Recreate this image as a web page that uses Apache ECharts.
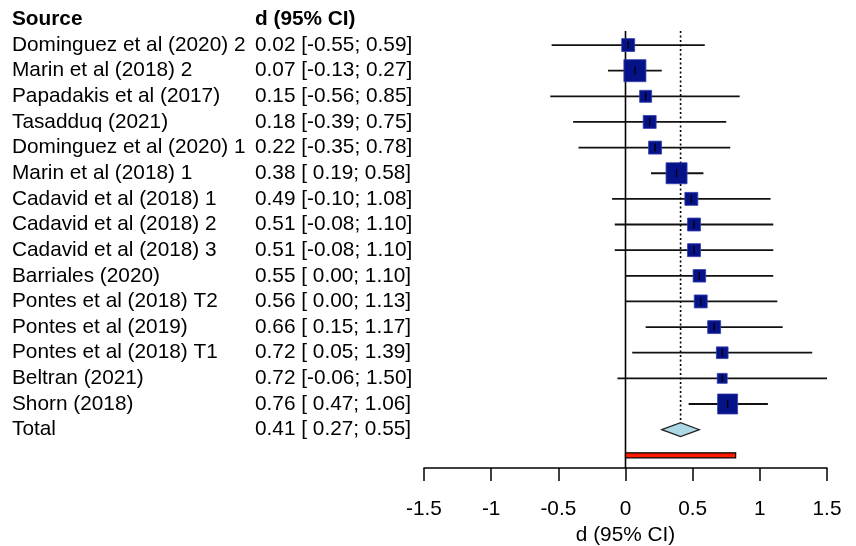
<!DOCTYPE html>
<html><head><meta charset="utf-8">
<script src="https://cdn.jsdelivr.net/npm/echarts@6/dist/echarts.min.js"></script>
<style>html,body{margin:0;padding:0;background:#fff}#c{width:856px;height:546px}</style>
</head><body><div id="c"></div>
<script>
// ---- data ----
const studies = ['Dominguez et al (2020) 2','Marin et al (2018) 2','Papadakis et al (2017)','Tasadduq (2021)','Dominguez et al (2020) 1','Marin et al (2018) 1','Cadavid et al (2018) 1','Cadavid et al (2018) 2','Cadavid et al (2018) 3','Barriales (2020)','Pontes et al (2018) T2','Pontes et al (2019)','Pontes et al (2018) T1','Beltran (2021)','Shorn (2018)'];
const estimates = [0.02,0.07,0.15,0.18,0.22,0.38,0.49,0.51,0.51,0.55,0.56,0.66,0.72,0.72,0.76];
const lower = [-0.55,-0.13,-0.56,-0.39,-0.35,0.19,-0.10,-0.08,-0.08,0.00,0.00,0.15,0.05,-0.06,0.47];
const upper = [0.59,0.27,0.85,0.75,0.78,0.58,1.08,1.10,1.10,1.10,1.13,1.17,1.39,1.50,1.06];
const weights = [4.9,14.2,4.2,4.9,4.9,12.9,4.9,4.9,4.9,4.6,4.9,4.9,4.0,2.9,11.7];
const ciText = ['0.02 [-0.55; 0.59]','0.07 [-0.13; 0.27]','0.15 [-0.56; 0.85]','0.18 [-0.39; 0.75]','0.22 [-0.35; 0.78]','0.38 [ 0.19; 0.58]','0.49 [-0.10; 1.08]','0.51 [-0.08; 1.10]','0.51 [-0.08; 1.10]','0.55 [ 0.00; 1.10]','0.56 [ 0.00; 1.13]','0.66 [ 0.15; 1.17]','0.72 [ 0.05; 1.39]','0.72 [-0.06; 1.50]','0.76 [ 0.47; 1.06]'];
const totalName = 'Total';
const totalEst = 0.41, totalLower = 0.27, totalUpper = 0.55;
const totalText = '0.41 [ 0.27; 0.55]';
const predBar = [0, 0.82];
const headers = ['Source', 'd (95% CI)'];
const xTitle = 'd (95% CI)';
const xMin = -1.5, xMax = 1.5, xStep = 0.5;

// ---- layout ----
const FONT = '"Liberation Sans", Arial, sans-serif';
const FS = 20.8;
const gridLeft = 424, gridRight = 29, gridTop = 19.4, gridBottom = 77.9;
const nameX = 12, ciX = 255;
const totalRow = studies.length + 1, barRow = studies.length + 2;

const studyData = estimates.map((e, i) => [e, lower[i], upper[i], i + 1, weights[i]]);

function rowLabel(col) {
  return function (v) {
    if (v === 0) return '{b|' + headers[col] + '}';
    if (v >= 1 && v <= studies.length && Number.isInteger(v)) return col === 0 ? studies[v - 1] : ciText[v - 1];
    if (v === totalRow) return col === 0 ? totalName : totalText;
    return '';
  };
}
function yAx(col, margin) {
  return {
    type: 'value', inverse: true, min: 0, max: barRow + 0.5, interval: 1, position: 'left',
    axisLine: {show: false, onZero: false}, axisTick: {show: false}, splitLine: {show: false},
    axisLabel: {show: true, formatter: rowLabel(col), align: 'left', margin: margin,
      color: '#000', fontFamily: FONT, fontSize: FS, showMinLabel: true, showMaxLabel: true,
      rich: {b: {fontWeight: 'bold', fontFamily: FONT, fontSize: FS, color: '#000'}}}
  };
}

const chart = echarts.init(document.getElementById('c'), null, {renderer: 'canvas'});
chart.setOption({
  animation: false,
  backgroundColor: '#fff',
  grid: {left: gridLeft, right: gridRight, top: gridTop, bottom: gridBottom, containLabel: false, outerBoundsMode: 'none'},
  xAxis: {
    type: 'value', min: xMin, max: xMax, interval: xStep, position: 'bottom',
    name: xTitle, nameLocation: 'middle', nameGap: 52,
    nameTextStyle: {color: '#000', fontFamily: FONT, fontSize: FS},
    axisLine: {show: true, onZero: false, lineStyle: {color: '#000', width: 1.5}},
    axisTick: {show: true, length: 13, lineStyle: {color: '#000', width: 1.5}},
    splitLine: {show: false},
    axisLabel: {color: '#000', fontFamily: FONT, fontSize: FS, margin: 31}
  },
  yAxis: [yAx(0, gridLeft - nameX), yAx(1, gridLeft - ciX)],
  series: [
    {
      type: 'custom', coordinateSystem: 'cartesian2d', xAxisIndex: 0, yAxisIndex: 0,
      data: [[0, 0.45, barRow + 0.5]],
      renderItem: function (params, api) {
        const a = api.coord([api.value(0), api.value(1)]);
        const b = api.coord([api.value(0), api.value(2)]);
        const d1 = api.coord([totalEst, 0.45]);
        const d2 = api.coord([totalEst, totalRow]);
        return {type: 'group', children: [
          {type: 'line', shape: {x1: a[0], y1: a[1], x2: b[0], y2: b[1]}, style: {stroke: '#000', lineWidth: 1.6}},
          {type: 'line', shape: {x1: d1[0], y1: d1[1], x2: d2[0], y2: d2[1] - 7}, style: {stroke: '#000', lineWidth: 1.6, lineDash: [2, 2.5]}}
        ]};
      },
      clip: false, silent: true
    },
    {
      type: 'custom', coordinateSystem: 'cartesian2d',
      data: studyData,
      renderItem: function (params, api) {
        const e = api.value(0), lo = api.value(1), hi = api.value(2), r = api.value(3), w = api.value(4);
        const pl = api.coord([lo, r]), ph = api.coord([hi, r]), pe = api.coord([e, r]);
        const s = 5.85 * Math.sqrt(w);
        return {type: 'group', children: [
          {type: 'line', shape: {x1: pl[0], y1: pl[1], x2: ph[0], y2: ph[1]}, style: {stroke: '#111', lineWidth: 1.8}},
          {type: 'rect', shape: {x: pe[0] - s / 2, y: pe[1] - s / 2, width: s, height: s}, style: {fill: '#061287', stroke: '#3340ae', lineWidth: 0.8}},
          {type: 'line', shape: {x1: pe[0], y1: pe[1] - 4, x2: pe[0], y2: pe[1] + 4}, style: {stroke: '#000', lineWidth: 1.3}}
        ]};
      },
      clip: false, silent: true
    },
    {
      type: 'custom', coordinateSystem: 'cartesian2d',
      data: [[totalEst, totalLower, totalUpper, totalRow]],
      renderItem: function (params, api) {
        const r = api.value(3);
        const pl = api.coord([api.value(1), r]), ph = api.coord([api.value(2), r]), pe = api.coord([api.value(0), r]);
        const h = 7;
        return {type: 'polygon', shape: {points: [[pl[0], pl[1]], [pe[0], pe[1] - h], [ph[0], ph[1]], [pe[0], pe[1] + h]]},
          style: {fill: '#add8e6', stroke: '#222', lineWidth: 1.2}};
      },
      clip: false, silent: true
    },
    {
      type: 'custom', coordinateSystem: 'cartesian2d',
      data: [[predBar[0], predBar[1], barRow]],
      renderItem: function (params, api) {
        const a = api.coord([api.value(0), api.value(2)]), b = api.coord([api.value(1), api.value(2)]);
        const h = 5;
        return {type: 'rect', shape: {x: a[0], y: a[1] - h / 2, width: b[0] - a[0], height: h},
          style: {fill: '#ff1a00', stroke: '#000', lineWidth: 1.2}};
      },
      clip: false, silent: true
    }
  ]
});
</script></body></html>
